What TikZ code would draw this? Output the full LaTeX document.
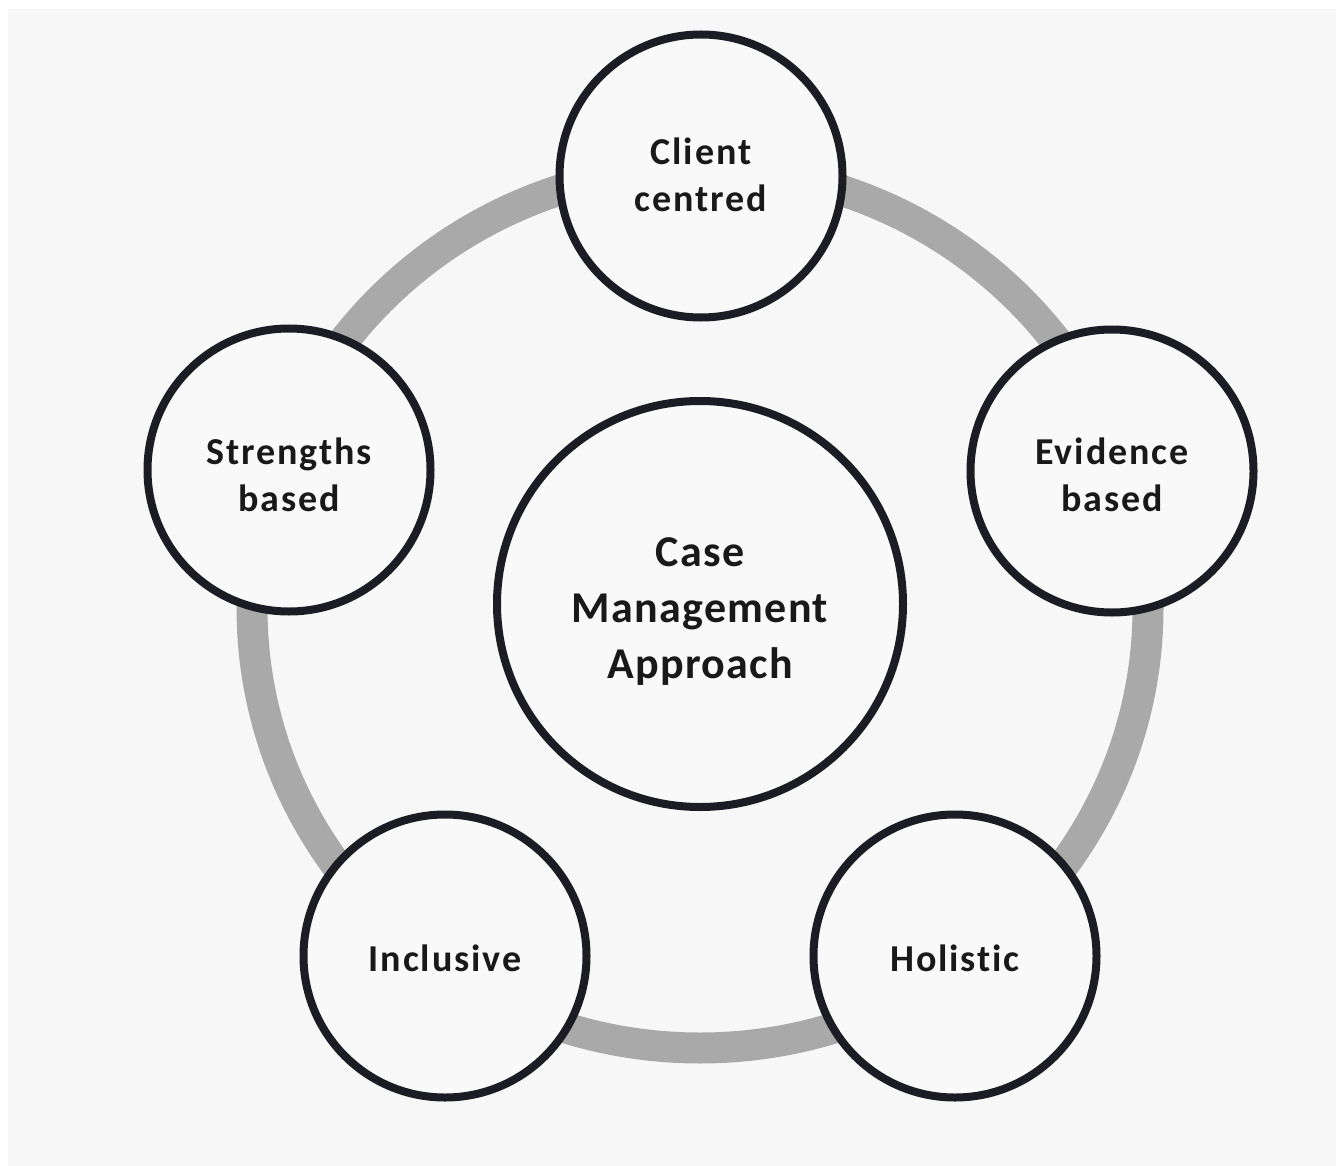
\documentclass[tikz,border=0pt]{standalone}
\usepackage{fontspec}
\setmainfont{Carlito}[Ligatures=NoCommon]
\definecolor{bgc}{HTML}{F7F7F7}
\definecolor{fillc}{HTML}{F9F9F9}
\definecolor{edgec}{HTML}{1C1C24}
\definecolor{ringc}{HTML}{A9A9A9}
\begin{document}
\begin{tikzpicture}[x=1pt,y=-1pt,
  bubble/.style={circle,draw=edgec,line width=8pt,fill=fillc,minimum size=283pt,inner sep=0pt},
  hub/.style={bubble,minimum size=406pt},
  txt/.style={align=center,inner sep=0pt,text=black!90,
     font=\fontsize{38}{47}\selectfont\bfseries\addfontfeature{LetterSpace=5,Ligatures=NoCommon}},
  hubtxt/.style={txt,font=\fontsize{44}{56}\selectfont\bfseries\addfontfeature{LetterSpace=3,Ligatures=NoCommon}},
  ring/.style={draw=ringc,line width=31pt}]
\useasboundingbox (0,0) rectangle (1341,1166);
\fill[white] (0,0) rectangle (1341,1166);
\fill[bgc] (8,9) rectangle (1336,1166);
\coordinate (rc) at (700,608);
\draw[ring] (rc) ellipse [x radius=448, y radius=440];
\node[hub] (cm) at (700,604) {};
\node[bubble] (cc) at (701,176) {};
\node[bubble] (sb) at (289,470) {};
\node[bubble] (eb) at (1112,471) {};
\node[bubble] (in) at (445,956) {};
\node[bubble] (ho) at (955,956) {};
\node[hubtxt] (cmt) at ([yshift=-8pt]cm.center) {Case\\Management\\Approach};
\node[txt] (cct) at ([yshift=1pt]cc.center) {Client\\centred};
\node[txt] (sbt) at ([yshift=-5pt]sb.center) {Strengths\\based};
\node[txt] (ebt) at ([yshift=-4pt]eb.center) {Evidence\\based};
\node[txt] (int) at ([yshift=-2pt]in.center) {Inclusive};
\node[txt] (hot) at ([yshift=-2pt]ho.center) {Holistic};
\end{tikzpicture}
\end{document}
